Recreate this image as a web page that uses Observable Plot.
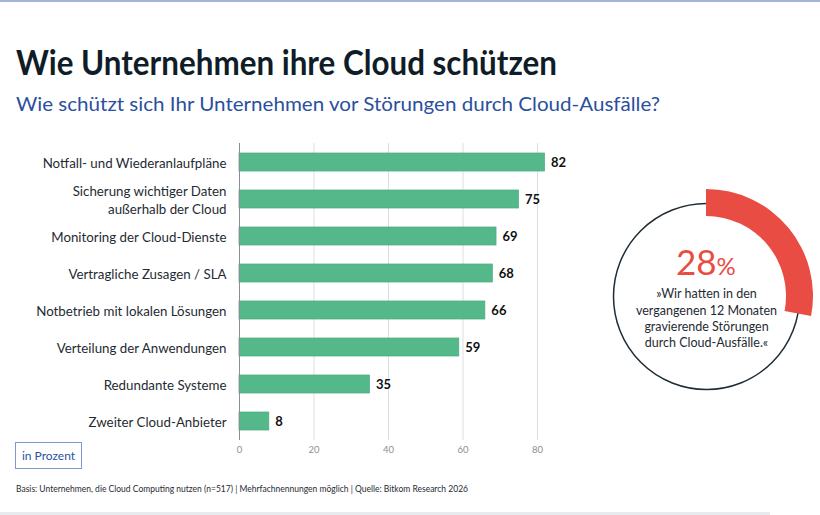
<!DOCTYPE html>
<html lang="de">
<head>
<meta charset="utf-8">
<script src="https://cdn.jsdelivr.net/npm/d3@7"></script>
<script src="https://cdn.jsdelivr.net/npm/@observablehq/plot@0.6"></script>
<style>
  html, body { margin: 0; padding: 0; background: #fff; overflow: hidden; }
  #page { position: relative; width: 820px; height: 515px; overflow: hidden; background: #fff; font-family: Lato, sans-serif; }
  .txt { position: absolute; white-space: nowrap; transform-origin: 0 0; line-height: 1; }
  #topline { position: absolute; left: 0; top: 0; width: 820px; height: 2px; background: #a3b4d8; }
  #bottomline { position: absolute; left: 0; top: 512px; width: 770px; height: 3px; background: #e8ebee; }
  #title { left: 16px; top: 44px; font-size: 35px; font-weight: 700; color: #0f1d28; }
  #subtitle { left: 16px; top: 94px; font-size: 19.5px; color: #2b4f9e; }
  #foot { left: 16px; top: 484px; font-size: 9.5px; color: #1f2b33; }
  #unit { position: absolute; left: 15px; top: 442px; width: 65px; height: 25px; border: 1px solid #7d98d3;
          color: #2c52a0; font-size: 12px; line-height: 25px; text-align: center; }
  #bars { position: absolute; left: 0; top: 130px; }
  #ring { position: absolute; left: 592px; top: 182px; }
  svg { overflow: visible; }
</style>
</head>
<body>
<div id="page">
  <div id="topline"></div>
  <div id="bars"></div>
  <div id="ring"></div>
  <div class="txt" id="title">Wie Unternehmen ihre Cloud schützen</div>
  <div class="txt" id="subtitle">Wie schützt sich Ihr Unternehmen vor Störungen durch Cloud-Ausfälle?</div>
  <div id="unit">in Prozent</div>
  <div class="txt" id="foot">Basis: Unternehmen, die Cloud Computing nutzen (n=517) | Mehrfachnennungen möglich | Quelle: Bitkom Research 2026</div>
  <div id="bottomline"></div>
</div>
<script>
// Schutzmaßnahmen gegen Cloud-Ausfälle, Anteil in Prozent
const categories = [
  "Notfall- und Wiederanlaufpläne",
  "Sicherung wichtiger Daten\naußerhalb der Cloud",
  "Monitoring der Cloud-Dienste",
  "Vertragliche Zusagen / SLA",
  "Notbetrieb mit lokalen Lösungen",
  "Verteilung der Anwendungen",
  "Redundante Systeme",
  "Zweiter Cloud-Anbieter"
];
const shares = [82, 75, 69, 68, 66, 59, 35, 8];
const xTicks = [0, 20, 40, 60, 80];

// Anteil mit gravierenden Störungen in den letzten 12 Monaten
const outageShare = 28;
const outageQuote = "»Wir hatten in den\nvergangenen 12 Monaten\ngravierende Störungen\ndurch Cloud-Ausfälle.«";

const rows = categories.map((category, i) => ({category, share: shares[i]}));

const green = "#55b88a";
const red = "#e84c43";
const ink = "#1f2b33";

const barChart = Plot.plot({
  width: 605,
  height: 335,
  marginTop: 13,
  marginBottom: 25,
  marginLeft: 239,
  marginRight: 30.75,
  style: {fontFamily: "Lato, sans-serif", background: "transparent", overflow: "visible"},
  x: {domain: [0, 90], axis: null},
  y: {domain: categories, paddingInner: 0.515, paddingOuter: 0.242, axis: null},
  marks: [
    Plot.gridX(xTicks.filter((t) => t > 0), {stroke: "#dedede", strokeOpacity: 1}),
    Plot.axisX(xTicks, {tickSize: 0, tickPadding: 6, fontSize: 9.5, color: "#8e8e8e", label: null}),
    Plot.barX(rows, {x: "share", y: "category", fill: green, stroke: "#4aac7e", strokeWidth: 0.75}),
    Plot.ruleX([0], {stroke: "#8a8f93", strokeWidth: 1}),
    Plot.text(rows, {x: 0, y: "category", text: "category", textAnchor: "end", dx: -13,
                     fontSize: 13.3, fill: ink, lineHeight: 1.3}),
    Plot.text(rows, {x: "share", y: "category", text: (d) => String(d.share), textAnchor: "start", dx: 6,
                     fontSize: 13, fontWeight: "bold", fill: "#111"})
  ]
});
document.getElementById("bars").append(barChart);

// Ring: thin outline plus the red arc for the share
const ring = Plot.plot({
  width: 228,
  height: 228,
  margin: 0,
  style: {fontFamily: "Lato, sans-serif", background: "transparent", overflow: "visible"},
  x: {domain: [-114, 114], axis: null},
  y: {domain: [-114, 114], axis: null},
  marks: [
    Plot.dot([{x: 0, y: 0}], {x: "x", y: "y", r: 93, stroke: "#1e2c36", strokeWidth: 1.5, fill: "none"}),
    (index, {x, y}) => {
      const path = d3.create("svg:path")
        .attr("transform", `translate(${x(0)},${y(0)})`)
        .attr("fill", red)
        .attr("d", d3.arc()({
          innerRadius: x(80) - x(0),
          outerRadius: x(107) - x(0),
          startAngle: 0,
          endAngle: 2 * Math.PI * outageShare / 100
        }));
      return path.node();
    },
    Plot.text([outageShare], {text: (d) => String(d), frameAnchor: "middle", textAnchor: "end",
                              lineAnchor: "bottom", dx: 10, dy: -22, fontSize: 35, fill: red}),
    Plot.text(["%"], {text: (d) => d, frameAnchor: "middle", textAnchor: "start",
                      lineAnchor: "bottom", dx: 10, dy: -22, fontSize: 24, fill: red}),
    Plot.text([outageQuote], {text: (d) => d, frameAnchor: "middle", lineAnchor: "middle",
                              dy: 21, fontSize: 12.5, lineHeight: 1.3, fill: ink})
  ]
});
document.getElementById("ring").append(ring);

// Condense header and footer lines to their set widths
function fitWidth(id, width) {
  const el = document.getElementById(id);
  const natural = el.getBoundingClientRect().width;
  el.style.transform = `scaleX(${width / natural})`;
}
fitWidth("title", 541);
fitWidth("subtitle", 644);
fitWidth("foot", 452);
</script>
</body>
</html>
